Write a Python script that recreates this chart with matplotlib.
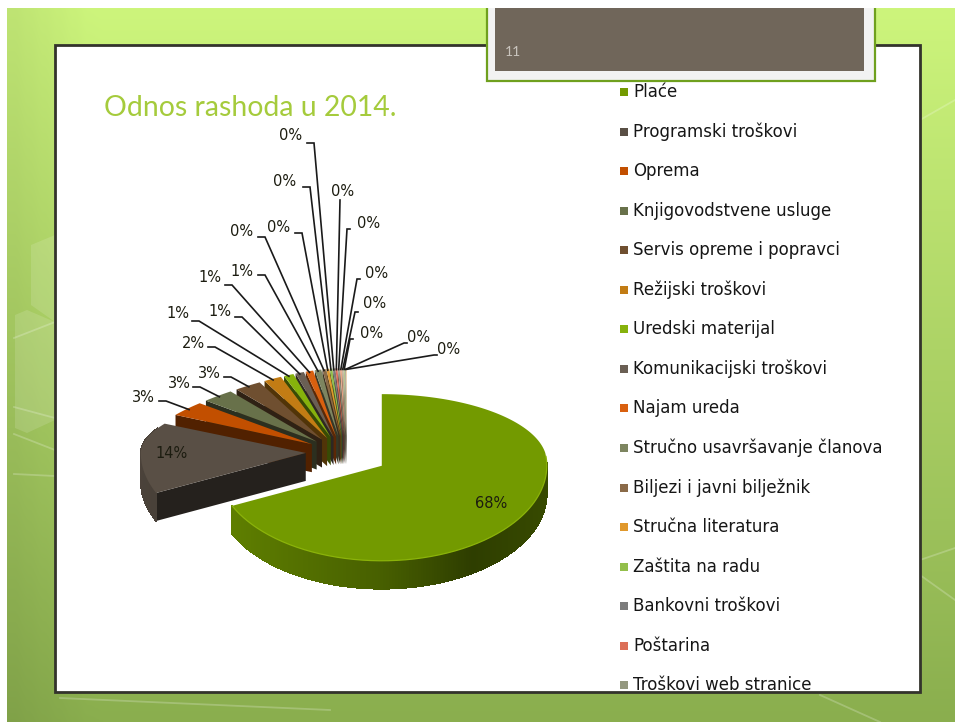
import numpy as np
import matplotlib
matplotlib.use("Agg")
import matplotlib.pyplot as plt
from matplotlib.colors import to_rgb
from matplotlib.patches import Rectangle, Polygon

legend_names = ["Plaće", "Programski troškovi", "Oprema", "Knjigovodstvene usluge",
                "Servis opreme i popravci", "Režijski troškovi", "Uredski materijal",
                "Komunikacijski troškovi", "Najam ureda", "Stručno usavršavanje članova",
                "Biljezi i javni bilježnik", "Stručna literatura", "Zaštita na radu",
                "Bankovni troškovi", "Poštarina", "Troškovi web stranice"]
values = [68, 14, 3.2, 2.9, 2.7, 2.0, 1.2, 1.1, 1.0, 0.9,
          0.45, 0.4, 0.35, 0.3, 0.3, 0.25, 0.25, 0.2, 0.15, 0.15, 0.1]
colors = ["#739a00", "#594f45", "#c24f00", "#68714a", "#6f4f30", "#c27c14", "#86b20c",
          "#6a5f54", "#d9600f", "#7d8560", "#8a6a48", "#e0982c", "#93bf4b", "#7c7c7c",
          "#dc6f58", "#94987f", "#e8a484", "#c4ad8c", "#a9c080", "#b3a592", "#f2c88a"]
title = "Odnos rashoda u 2014."
slide_number = "11"

# pie layout in pixels
cx, cy = 347, 453
rx, ry_up, ry_down = 165, 68, 95
depth = 28
explode = 0.25
far_narrow = 0.22

# label text centre and the start of the leader, for slices 3 onwards
label_pos = [(143, 397), (179, 383), (209, 373), (193, 343), (178, 314), (220, 311), (210, 278),
             (242, 271), (242, 232), (279, 227), (285, 181), (291, 136), (343, 191), (369, 223),
             (377, 273), (375, 304), (372, 333), (419, 337), (449, 349)]
leader_pos = [(159, 401), (193, 387), (224, 377), (208, 347), (192, 321), (235, 317), (225, 285),
              (258, 275), (258, 237), (295, 233), (303, 187), (307, 143), (340, 200), (350, 229),
              (360, 279), (358, 312), (353, 339), (407, 343), (437, 355)]

W, H = 955, 722
fig = plt.figure(figsize=(W / 100, H / 100), dpi=100)
ax = fig.add_axes([0, 0, 1, 1])
ax.set_xlim(0, W)
ax.set_ylim(H, 0)
ax.axis("off")

#background gradient, slide starts a few px in from the corner
top = np.array(to_rgb("#cdf57c"))
bottom = np.array(to_rgb("#8aae4e"))
t = np.linspace(0, 1, 256)[:, None, None]
s = np.linspace(0, 1, 64)[None, :, None]
edge_dark = 1 - 0.07 * np.clip(1 - s * 12, 0, 1)
grad = (top * (1 - t) + bottom * t) * edge_dark
ax.imshow(grad, extent=(7, W, H, 8), aspect="auto", zorder=0)
ax.set_xlim(0, W)
ax.set_ylim(H, 0)
for xs, ys in [([14, 55], [338, 322]), ([14, 55], [407, 418]), ([14, 55], [434, 450]), ([14, 55], [474, 476]),
               ([920, 955], [560, 548]), ([920, 955], [575, 600]), ([60, 330], [698, 710]),
               ([820, 880], [695, 722]), ([920, 955], [120, 100])]:
    ax.plot(xs, ys, color="white", alpha=0.22, lw=1.3, zorder=1)
for poly in [[(15, 315), (27, 310), (55, 322), (55, 420), (27, 433), (15, 428)],
             [(31, 245), (55, 235), (55, 322), (31, 305)]]:
    ax.add_patch(Polygon(poly, fc="white", ec="none", alpha=0.13, zorder=1))

ax.add_patch(Rectangle((55, 45), 865, 647, fc="white", ec="#33332c", lw=2, zorder=2))

ax.add_patch(Rectangle((487, 6), 388, 75, fc="#f2f2f2", ec="#6fa01e", lw=1.6, zorder=3))
ax.add_patch(Rectangle((495, 8), 369, 63, fc="#70665a", ec="none", zorder=4))
ax.add_patch(Rectangle((0, 0), W, 8, fc="white", ec="none", zorder=5))
ax.add_patch(Rectangle((0, 0), 7, H, fc="white", ec="none", zorder=5))
ax.text(513, 52, slide_number, color="#c9c4bd", fontsize=10, family="Lato", ha="center", va="center", zorder=6)

ax.text(104, 108, title, color="#a5cb3c", fontsize=20.4, family="Lato", ha="left", va="center", zorder=6)


#position of a point on the squashed pie, u and v are in units of radius
#the far left part is pulled in a bit, the original has some perspective
def project(u, v, drop=0):
    u = np.asarray(u, dtype=float)
    v = np.asarray(v, dtype=float)
    y = cy - v * np.where(v > 0, ry_up, ry_down) + drop
    x = cx + rx * u * (1 - far_narrow * np.where(u < 0, np.clip(v, 0, None) ** 2, 0))
    return x, y


def shade(color, f):
    return tuple(min(1, c * f) for c in to_rgb(color))


fractions = np.array(values) / sum(values)
edges = np.concatenate([[0], np.cumsum(fractions)]) * 2 * np.pi
mids = (edges[:-1] + edges[1:]) / 2
off_u = explode * np.sin(mids)
off_v = explode * np.cos(mids)

#back slices first so that the near ones cover them
order = np.argsort(-np.cos(mids))
z = 10
for i in order:
    th = np.linspace(edges[i], edges[i + 1], max(4, int(np.degrees(edges[i + 1] - edges[i]))))
    au = off_u[i] + np.sin(th)
    av = off_v[i] + np.cos(th)
    col = colors[i]

    #radial wall on the clockwise start side, shows on the left half only
    if np.sin(edges[i]) < 0:
        x0, y0 = project(off_u[i], off_v[i])
        x1, y1 = project(au[0], av[0])
        ax.add_patch(Polygon([(x0, y0), (x1, y1), (x1, y1 + depth), (x0, y0 + depth)],
                             fc=shade(col, 0.42), ec="none", zorder=z))
    #outer wall split in small pieces so it can be shaded along the arc
    for k in range(len(th) - 1):
        if av[k] > off_v[i] + 0.05 and i == 0:
            continue
        if i > 0 and np.cos(th[k]) > 0.35:
            continue
        xa, ya = project(au[k:k + 2], av[k:k + 2])
        #lit from the left, darkest a bit right of the front
        f = np.interp(np.sin(th[k]), [-1, 0, 0.55, 1], [0.84, 0.62, 0.4, 0.48])
        ax.add_patch(Polygon([(xa[0], ya[0]), (xa[1], ya[1]), (xa[1], ya[1] + depth), (xa[0], ya[0] + depth)],
                             fc=shade(col, f), ec=shade(col, f), lw=0.5, antialiased=False, zorder=z))
    x, y = project(au, av)
    x0, y0 = project(off_u[i], off_v[i])
    ax.add_patch(Polygon(np.column_stack([np.r_[x0, x], np.r_[y0, y]]), fc=col, ec="none", zorder=z + 1))
    if i == 0:
        front = np.cos(th) < 0.1
        ax.plot(x[front], y[front], color="#8bb30a", lw=0.9, zorder=z + 1)
    z += 2

#inside labels of the two big slices
ax.text(491, 503, f"{values[0]:.0f}%", fontsize=10.5, color="#1c1c10", ha="center", va="center", zorder=60)
ax.text(172, 454, f"{values[1]:.0f}%", fontsize=10.5, color="#1c1c10", ha="center", va="center", zorder=60)

#leaders for the small slices
for n, i in enumerate(range(2, len(values))):
    tx, ty = project(off_u[i] + np.sin(mids[i]) * 0.98, off_v[i] + np.cos(mids[i]) * 0.98)
    lx, ly = leader_pos[n]
    pts_x, pts_y = [lx, float(tx)], [ly, float(ty)]
    if label_pos[n][0] < lx:
        pts_x.insert(1, lx + 7)
        pts_y.insert(1, ly)
    elif label_pos[n][0] > lx + 5:
        pts_x.insert(1, lx - 3)
        pts_y.insert(1, ly)
    ax.plot(pts_x, pts_y, color="#1a1a1a", lw=1.2, zorder=50, solid_joinstyle="miter")
    ax.text(label_pos[n][0], label_pos[n][1], f"{values[i]:.0f}%", fontsize=10.5,
            color="#1c1c10", ha="center", va="center", zorder=60)

#legend, last row gets cut by the bottom of the slide
clip = Rectangle((55, 45), 865, 647, transform=ax.transData)
for n, name in enumerate(legend_names):
    y = 92 + n * 39.55
    ax.add_patch(Rectangle((620, y - 4), 8, 8, fc=colors[n], ec="none", zorder=60))
    s = ax.text(633, y, name, fontsize=12, color="#161616", ha="left", va="center", zorder=60)
    s.set_clip_path(clip)

fig.savefig("out.png", dpi=100)
